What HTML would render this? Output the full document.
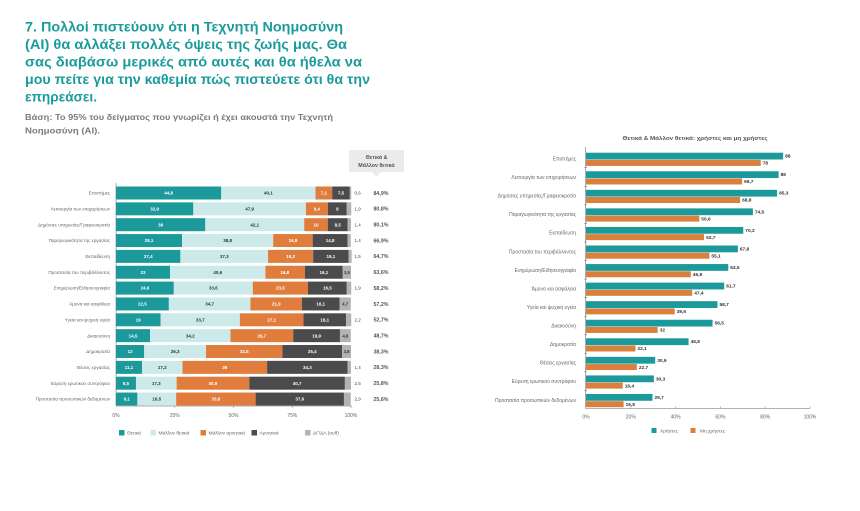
<!DOCTYPE html>
<html><head><meta charset="utf-8"><style>
html,body{margin:0;padding:0;background:#fff;}
svg{display:block;}
text{font-family:"Liberation Sans","DejaVu Sans",sans-serif;}
</style></head><body>
<svg width="860" height="511" viewBox="0 0 860 511" xmlns="http://www.w3.org/2000/svg">
<rect width="860" height="511" fill="#fff"/>
<!-- Title -->
<g fill="#1a9b9c" font-weight="bold" font-size="14">
<text x="25" y="31.5" textLength="318" lengthAdjust="spacingAndGlyphs">7. Πολλοί πιστεύουν ότι η Τεχνητή Νοημοσύνη</text>
<text x="25" y="49" textLength="322" lengthAdjust="spacingAndGlyphs">(AI) θα αλλάξει πολλές όψεις της ζωής μας. Θα</text>
<text x="25" y="66.5" textLength="337" lengthAdjust="spacingAndGlyphs">σας διαβάσω μερικές από αυτές και θα ήθελα να</text>
<text x="25" y="84" textLength="345" lengthAdjust="spacingAndGlyphs">μου πείτε για την καθεμία πώς πιστεύετε ότι θα την</text>
<text x="25" y="101.5" textLength="72" lengthAdjust="spacingAndGlyphs">επηρεάσει.</text>
</g>
<g fill="#7a7a7a" font-weight="bold" font-size="8.5">
<text x="25" y="120" textLength="308" lengthAdjust="spacingAndGlyphs">Βάση: Το 95% του δείγματος που γνωρίζει ή έχει ακουστά την Τεχνητή</text>
<text x="25" y="133.5" textLength="75" lengthAdjust="spacingAndGlyphs">Νοημοσύνη (AI).</text>
</g>

<!-- Header box -->
<rect x="349" y="150" width="55" height="22" fill="#ebebeb"/>
<polygon points="372,172 381,172 376.5,177" fill="#ebebeb"/>
<g fill="#555" font-size="5.3" font-weight="bold" text-anchor="middle">
<text x="376.5" y="159">Θετικά &amp;</text>
<text x="376.5" y="167">Μάλλον θετικά</text>
</g>

<!-- Left chart axes -->
<line x1="116" y1="183" x2="116" y2="406" stroke="#999" stroke-width="0.8"/>
<line x1="116" y1="406" x2="352" y2="406" stroke="#999" stroke-width="0.8"/>
<g stroke="#999" stroke-width="0.6">
<line x1="174.75" y1="406" x2="174.75" y2="408"/><line x1="233.5" y1="406" x2="233.5" y2="408"/><line x1="292.25" y1="406" x2="292.25" y2="408"/><line x1="351" y1="406" x2="351" y2="408"/>
</g>
<g fill="#666" font-size="5" text-anchor="middle">
<text x="116" y="417">0%</text><text x="174.75" y="417">25%</text><text x="233.5" y="417">50%</text><text x="292.25" y="417">75%</text><text x="351" y="417">100%</text>
</g>

<!-- Left row labels -->
<g fill="#666" font-size="4.6" text-anchor="end">
<text x="110" y="194.6">Επιστήμες</text>
<text x="110" y="210.45">Λειτουργία των επιχειρήσεων</text>
<text x="110" y="226.3">Δημόσιες υπηρεσίες/Γραφειοκρατία</text>
<text x="110" y="242.15">Παραγωγικότητα της εργασίας</text>
<text x="110" y="258">Εκπαίδευση</text>
<text x="110" y="273.85">Προστασία του περιβάλλοντος</text>
<text x="110" y="289.7">Ενημέρωση/Ειδησεογραφία</text>
<text x="110" y="305.55">Άμυνα και ασφάλεια</text>
<text x="110" y="321.4">Υγεία και ψυχική υγεία</text>
<text x="110" y="337.25">Δικαιοσύνη</text>
<text x="110" y="353.1">Δημοκρατία</text>
<text x="110" y="368.95">Θέσεις εργασίας</text>
<text x="110" y="384.8">Εύρεση ερωτικού συντρόφου</text>
<text x="110" y="400.65">Προστασία προσωπικών δεδομένων</text>
</g>

<!-- Left bars -->
<g>
<!-- row0 -->
<rect x="116" y="186.5" width="105.28" height="13" fill="#1c9a9b"/>
<rect x="221.28" y="186.5" width="94.235" height="13" fill="#cdeaea"/>
<rect x="315.515" y="186.5" width="16.685" height="13" fill="#e07d3c"/>
<rect x="332.2" y="186.5" width="17.625" height="13" fill="#4b4b4d"/>
<rect x="349.825" y="186.5" width="1.41" height="13" fill="#b3b3b3"/>
<!-- row1 -->
<rect x="116" y="202.35" width="77.315" height="13" fill="#1c9a9b"/>
<rect x="193.315" y="202.35" width="112.565" height="13" fill="#cdeaea"/>
<rect x="305.88" y="202.35" width="22.09" height="13" fill="#e07d3c"/>
<rect x="327.97" y="202.35" width="18.8" height="13" fill="#4b4b4d"/>
<rect x="346.77" y="202.35" width="4.465" height="13" fill="#b3b3b3"/>
<!-- row2 -->
<rect x="116" y="218.2" width="89.3" height="13" fill="#1c9a9b"/>
<rect x="205.3" y="218.2" width="98.935" height="13" fill="#cdeaea"/>
<rect x="304.235" y="218.2" width="23.5" height="13" fill="#e07d3c"/>
<rect x="327.735" y="218.2" width="19.975" height="13" fill="#4b4b4d"/>
<rect x="347.71" y="218.2" width="3.29" height="13" fill="#b3b3b3"/>
<!-- row3 -->
<rect x="116" y="234.05" width="66.035" height="13" fill="#1c9a9b"/>
<rect x="182.035" y="234.05" width="91.18" height="13" fill="#cdeaea"/>
<rect x="273.215" y="234.05" width="39.48" height="13" fill="#e07d3c"/>
<rect x="312.695" y="234.05" width="34.78" height="13" fill="#4b4b4d"/>
<rect x="347.475" y="234.05" width="3.29" height="13" fill="#b3b3b3"/>
<!-- row4 -->
<rect x="116" y="249.9" width="64.39" height="13" fill="#1c9a9b"/>
<rect x="180.39" y="249.9" width="87.655" height="13" fill="#cdeaea"/>
<rect x="268.045" y="249.9" width="45.12" height="13" fill="#e07d3c"/>
<rect x="313.165" y="249.9" width="35.485" height="13" fill="#4b4b4d"/>
<rect x="348.65" y="249.9" width="3.0" height="13" fill="#b3b3b3"/>
<!-- row5 -->
<rect x="116" y="265.75" width="54.05" height="13" fill="#1c9a9b"/>
<rect x="170.05" y="265.75" width="95.41" height="13" fill="#cdeaea"/>
<rect x="265.46" y="265.75" width="39.48" height="13" fill="#e07d3c"/>
<rect x="304.94" y="265.75" width="37.835" height="13" fill="#4b4b4d"/>
<rect x="342.775" y="265.75" width="8.225" height="13" fill="#b3b3b3"/>
<!-- row6 -->
<rect x="116" y="281.6" width="57.81" height="13" fill="#1c9a9b"/>
<rect x="173.81" y="281.6" width="78.96" height="13" fill="#cdeaea"/>
<rect x="252.77" y="281.6" width="55.225" height="13" fill="#e07d3c"/>
<rect x="307.995" y="281.6" width="38.775" height="13" fill="#4b4b4d"/>
<rect x="346.77" y="281.6" width="4.465" height="13" fill="#b3b3b3"/>
<!-- row7 -->
<rect x="116" y="297.45" width="52.875" height="13" fill="#1c9a9b"/>
<rect x="168.875" y="297.45" width="81.545" height="13" fill="#cdeaea"/>
<rect x="250.42" y="297.45" width="51.465" height="13" fill="#e07d3c"/>
<rect x="301.885" y="297.45" width="37.835" height="13" fill="#4b4b4d"/>
<rect x="339.72" y="297.45" width="11.045" height="13" fill="#b3b3b3"/>
<!-- row8 -->
<rect x="116" y="313.3" width="44.65" height="13" fill="#1c9a9b"/>
<rect x="160.65" y="313.3" width="79.195" height="13" fill="#cdeaea"/>
<rect x="239.845" y="313.3" width="63.685" height="13" fill="#e07d3c"/>
<rect x="303.53" y="313.3" width="42.535" height="13" fill="#4b4b4d"/>
<rect x="346.065" y="313.3" width="5.17" height="13" fill="#b3b3b3"/>
<!-- row9 -->
<rect x="116" y="329.15" width="34.075" height="13" fill="#1c9a9b"/>
<rect x="150.075" y="329.15" width="80.37" height="13" fill="#cdeaea"/>
<rect x="230.445" y="329.15" width="62.745" height="13" fill="#e07d3c"/>
<rect x="293.19" y="329.15" width="46.765" height="13" fill="#4b4b4d"/>
<rect x="339.955" y="329.15" width="10.81" height="13" fill="#b3b3b3"/>
<!-- row10 -->
<rect x="116" y="345" width="28.2" height="13" fill="#1c9a9b"/>
<rect x="144.2" y="345" width="61.805" height="13" fill="#cdeaea"/>
<rect x="206.005" y="345" width="76.375" height="13" fill="#e07d3c"/>
<rect x="282.38" y="345" width="59.69" height="13" fill="#4b4b4d"/>
<rect x="342.07" y="345" width="8.93" height="13" fill="#b3b3b3"/>
<!-- row11 -->
<rect x="116" y="360.85" width="26.085" height="13" fill="#1c9a9b"/>
<rect x="142.085" y="360.85" width="40.42" height="13" fill="#cdeaea"/>
<rect x="182.505" y="360.85" width="84.6" height="13" fill="#e07d3c"/>
<rect x="267.105" y="360.85" width="80.605" height="13" fill="#4b4b4d"/>
<rect x="347.71" y="360.85" width="3.29" height="13" fill="#b3b3b3"/>
<!-- row12 -->
<rect x="116" y="376.7" width="19.975" height="13" fill="#1c9a9b"/>
<rect x="135.975" y="376.7" width="40.655" height="13" fill="#cdeaea"/>
<rect x="176.63" y="376.7" width="72.615" height="13" fill="#e07d3c"/>
<rect x="249.245" y="376.7" width="95.645" height="13" fill="#4b4b4d"/>
<rect x="344.89" y="376.7" width="6.11" height="13" fill="#b3b3b3"/>
<!-- row13 -->
<rect x="116" y="392.55" width="21.385" height="13" fill="#1c9a9b"/>
<rect x="137.385" y="392.55" width="38.775" height="13" fill="#cdeaea"/>
<rect x="176.16" y="392.55" width="79.43" height="13" fill="#e07d3c"/>
<rect x="255.59" y="392.55" width="88.36" height="13" fill="#4b4b4d"/>
<rect x="343.95" y="392.55" width="6.815" height="13" fill="#b3b3b3"/>
</g>

<!-- In-bar labels: teal (white) -->
<g fill="#fff" font-size="4.5" text-anchor="middle" font-weight="bold">
<text x="168.64" y="194.6">44,8</text>
<text x="154.66" y="210.45">32,9</text>
<text x="160.65" y="226.3">38</text>
<text x="149.02" y="242.15">28,1</text>
<text x="148.2" y="258">27,4</text>
<text x="143" y="273.85">23</text>
<text x="144.9" y="289.7">24,6</text>
<text x="142.4" y="305.55">22,5</text>
<text x="138.3" y="321.4">19</text>
<text x="133" y="337.25">14,5</text>
<text x="130.1" y="353.1">12</text>
<text x="129" y="368.95">11,1</text>
<text x="126" y="384.8">8,5</text>
<text x="126.7" y="400.65">9,1</text>
</g>
<!-- light (dark text) -->
<g fill="#333" font-size="4.5" text-anchor="middle" font-weight="bold">
<text x="268.4" y="194.6">40,1</text>
<text x="249.6" y="210.45">47,9</text>
<text x="254.77" y="226.3">42,1</text>
<text x="227.6" y="242.15">38,8</text>
<text x="224.2" y="258">37,3</text>
<text x="217.8" y="273.85">40,6</text>
<text x="213.3" y="289.7">33,6</text>
<text x="209.6" y="305.55">34,7</text>
<text x="200.2" y="321.4">33,7</text>
<text x="190.3" y="337.25">34,2</text>
<text x="175.1" y="353.1">26,3</text>
<text x="162.3" y="368.95">17,2</text>
<text x="156.3" y="384.8">17,3</text>
<text x="156.8" y="400.65">16,5</text>
</g>
<!-- orange and dark (white text) -->
<g fill="#fff" font-size="4.5" text-anchor="middle" font-weight="bold">
<text x="323.86" y="194.6">7,1</text><text x="341.01" y="194.6">7,5</text>
<text x="316.9" y="210.45">9,4</text><text x="337.37" y="210.45">8</text>
<text x="315.99" y="226.3">10</text><text x="337.72" y="226.3">8,5</text>
<text x="292.96" y="242.15">16,8</text><text x="330.09" y="242.15">14,8</text>
<text x="290.6" y="258">19,2</text><text x="330.9" y="258">15,1</text>
<text x="284.7" y="273.85">16,8</text><text x="323.9" y="273.85">16,1</text>
<text x="280.4" y="289.7">23,5</text><text x="327.4" y="289.7">16,5</text>
<text x="276.2" y="305.55">21,9</text><text x="320.8" y="305.55">16,1</text>
<text x="271.7" y="321.4">27,1</text><text x="324.8" y="321.4">18,1</text>
<text x="261.8" y="337.25">26,7</text><text x="316.6" y="337.25">19,9</text>
<text x="244.2" y="353.1">32,5</text><text x="312.2" y="353.1">25,4</text>
<text x="224.8" y="368.95">36</text><text x="307.4" y="368.95">34,3</text>
<text x="212.9" y="384.8">30,9</text><text x="297.1" y="384.8">40,7</text>
<text x="215.9" y="400.65">33,8</text><text x="299.8" y="400.65">37,6</text>
</g>
<!-- gray inside -->
<g fill="#333" font-size="4.2" text-anchor="middle" font-weight="bold">
<text x="346.9" y="273.85">3,5</text>
<text x="345.2" y="305.55">4,7</text>
<text x="345.4" y="337.25">4,6</text>
<text x="346.5" y="353.1">3,8</text>
</g>
<!-- gray outside -->
<g fill="#444" font-size="4.5">
<text x="354.5" y="194.6">0,6</text>
<text x="354.5" y="210.45">1,9</text>
<text x="354.5" y="226.3">1,4</text>
<text x="354.5" y="242.15">1,4</text>
<text x="354.5" y="258">1,5</text>
<text x="354.5" y="289.7">1,9</text>
<text x="354.5" y="321.4">2,2</text>
<text x="354.5" y="368.95">1,4</text>
<text x="354.5" y="384.8">2,6</text>
<text x="354.5" y="400.65">2,9</text>
</g>
<!-- percent column -->
<g fill="#555" font-size="5.3" text-anchor="middle" font-weight="bold">
<text x="381" y="194.8">84,9%</text>
<text x="381" y="210.65">80,8%</text>
<text x="381" y="226.5">80,1%</text>
<text x="381" y="242.35">66,9%</text>
<text x="381" y="258.2">64,7%</text>
<text x="381" y="274.05">63,6%</text>
<text x="381" y="289.9">58,2%</text>
<text x="381" y="305.75">57,2%</text>
<text x="381" y="321.6">52,7%</text>
<text x="381" y="337.45">48,7%</text>
<text x="381" y="353.3">38,3%</text>
<text x="381" y="369.15">28,3%</text>
<text x="381" y="385">25,8%</text>
<text x="381" y="400.85">25,6%</text>
</g>

<!-- Left legend -->
<rect x="119" y="430" width="5.5" height="5.5" fill="#1c9a9b"/>
<rect x="150.5" y="430" width="5.5" height="5.5" fill="#cdeaea"/>
<rect x="200.5" y="430" width="5.5" height="5.5" fill="#e07d3c"/>
<rect x="251.5" y="430" width="5.5" height="5.5" fill="#4b4b4d"/>
<rect x="305" y="430" width="5.5" height="5.5" fill="#b3b3b3"/>
<g fill="#666" font-size="4.8">
<text x="127" y="434.6">Θετικά</text>
<text x="158.5" y="434.6">Μάλλον θετικά</text>
<text x="208.5" y="434.6">Μάλλον αρνητικά</text>
<text x="259.5" y="434.6">Αρνητικά</text>
<text x="313" y="434.6">ΔΓ/ΔΑ (αυθ)</text>
</g>

<!-- Right chart -->
<text x="695" y="140" fill="#555" font-size="5.6" font-weight="bold" text-anchor="middle" textLength="145" lengthAdjust="spacingAndGlyphs">Θετικά &amp; Μάλλον θετικά: χρήστες  και μη χρήστες</text>
<line x1="585.5" y1="147" x2="585.5" y2="408.5" stroke="#999" stroke-width="0.8"/>
<line x1="585.5" y1="408.5" x2="810" y2="408.5" stroke="#999" stroke-width="0.8"/>
<g stroke="#999" stroke-width="0.6">
<line x1="630.8" y1="406.5" x2="630.8" y2="408.5"/><line x1="675.6" y1="406.5" x2="675.6" y2="408.5"/><line x1="720.4" y1="406.5" x2="720.4" y2="408.5"/><line x1="765.2" y1="406.5" x2="765.2" y2="408.5"/><line x1="810" y1="406.5" x2="810" y2="408.5"/>
</g>
<g stroke="#777" stroke-width="0.7">
<line x1="584.5" y1="167.7" x2="587" y2="167.7"/><line x1="584.5" y1="186.3" x2="587" y2="186.3"/><line x1="584.5" y1="204.8" x2="587" y2="204.8"/><line x1="584.5" y1="223.4" x2="587" y2="223.4"/><line x1="584.5" y1="242" x2="587" y2="242"/><line x1="584.5" y1="260.5" x2="587" y2="260.5"/><line x1="584.5" y1="279.1" x2="587" y2="279.1"/><line x1="584.5" y1="297.6" x2="587" y2="297.6"/><line x1="584.5" y1="316.2" x2="587" y2="316.2"/><line x1="584.5" y1="334.8" x2="587" y2="334.8"/><line x1="584.5" y1="353.3" x2="587" y2="353.3"/><line x1="584.5" y1="371.9" x2="587" y2="371.9"/><line x1="584.5" y1="390.4" x2="587" y2="390.4"/>
</g>
<g fill="#666" font-size="5" text-anchor="middle">
<text x="586" y="418.5">0%</text><text x="630.8" y="418.5">20%</text><text x="675.6" y="418.5">40%</text><text x="720.4" y="418.5">60%</text><text x="765.2" y="418.5">80%</text><text x="810" y="418.5">100%</text>
</g>
<!-- right labels -->
<g fill="#666" font-size="5" text-anchor="end">
<text x="576" y="160.5">Επιστήμες</text>
<text x="576" y="179.1">Λειτουργία των επιχειρήσεων</text>
<text x="576" y="197.6">Δημόσιες υπηρεσίες/Γραφειοκρατία</text>
<text x="576" y="216.2">Παραγωγικότητα της εργασίας</text>
<text x="576" y="234.7">Εκπαίδευση</text>
<text x="576" y="253.3">Προστασία του περιβάλλοντος</text>
<text x="576" y="271.9">Ενημέρωση/Ειδησεογραφία</text>
<text x="576" y="290.4">Άμυνα και ασφάλεια</text>
<text x="576" y="309">Υγεία και ψυχική υγεία</text>
<text x="576" y="327.5">Δικαιοσύνη</text>
<text x="576" y="346.1">Δημοκρατία</text>
<text x="576" y="364.7">Θέσεις εργασίας</text>
<text x="576" y="383.2">Εύρεση ερωτικού συντρόφου</text>
<text x="576" y="401.8">Προστασία προσωπικών δεδομένων</text>
</g>
<!-- teal bars -->
<g fill="#1c9a9b">
<rect x="586" y="152.7" width="197.12" height="6.8"/>
<rect x="586" y="171.26" width="192.64" height="6.8"/>
<rect x="586" y="189.82" width="191.07" height="6.8"/>
<rect x="586" y="208.38" width="166.88" height="6.8"/>
<rect x="586" y="226.94" width="157.25" height="6.8"/>
<rect x="586" y="245.5" width="151.87" height="6.8"/>
<rect x="586" y="264.06" width="142.24" height="6.8"/>
<rect x="586" y="282.62" width="138.21" height="6.8"/>
<rect x="586" y="301.18" width="131.49" height="6.8"/>
<rect x="586" y="319.74" width="126.56" height="6.8"/>
<rect x="586" y="338.3" width="102.59" height="6.8"/>
<rect x="586" y="356.86" width="69.22" height="6.8"/>
<rect x="586" y="375.42" width="67.87" height="6.8"/>
<rect x="586" y="393.98" width="66.53" height="6.8"/>
</g>
<!-- orange bars -->
<g fill="#d9803f">
<rect x="586" y="159.9" width="174.72" height="6"/>
<rect x="586" y="178.46" width="156.13" height="6"/>
<rect x="586" y="197.02" width="154.11" height="6"/>
<rect x="586" y="215.58" width="113.34" height="6"/>
<rect x="586" y="234.14" width="118.05" height="6"/>
<rect x="586" y="252.7" width="123.42" height="6"/>
<rect x="586" y="271.26" width="104.83" height="6"/>
<rect x="586" y="289.82" width="106.18" height="6"/>
<rect x="586" y="308.38" width="88.7" height="6"/>
<rect x="586" y="326.94" width="71.68" height="6"/>
<rect x="586" y="345.5" width="49.5" height="6"/>
<rect x="586" y="364.06" width="50.85" height="6"/>
<rect x="586" y="382.62" width="36.74" height="6"/>
<rect x="586" y="401.18" width="37.63" height="6"/>
</g>
<!-- teal values -->
<g fill="#333" font-size="4.8" font-weight="bold">
<text x="785.1" y="157.6">88</text>
<text x="780.6" y="176.2">86</text>
<text x="779.1" y="194.7">85,3</text>
<text x="754.9" y="213.3">74,5</text>
<text x="745.3" y="231.8">70,2</text>
<text x="739.9" y="250.4">67,8</text>
<text x="730.2" y="269">63,5</text>
<text x="726.2" y="287.5">61,7</text>
<text x="719.5" y="306.1">58,7</text>
<text x="714.6" y="324.6">56,5</text>
<text x="690.6" y="343.2">45,8</text>
<text x="657.2" y="361.8">30,9</text>
<text x="655.9" y="380.3">30,3</text>
<text x="654.5" y="398.9">29,7</text>
</g>
<!-- orange values -->
<g fill="#333" font-size="4.8" font-weight="bold">
<text x="762.7" y="164.6">78</text>
<text x="744.1" y="183.2">69,7</text>
<text x="742.1" y="201.7">68,8</text>
<text x="701.3" y="220.3">50,6</text>
<text x="706.1" y="238.8">52,7</text>
<text x="711.4" y="257.4">55,1</text>
<text x="692.8" y="276">46,8</text>
<text x="694.2" y="294.5">47,4</text>
<text x="676.7" y="313.1">39,6</text>
<text x="659.7" y="331.6">32</text>
<text x="637.5" y="350.2">22,1</text>
<text x="638.9" y="368.8">22,7</text>
<text x="624.7" y="387.3">16,4</text>
<text x="625.6" y="405.9">16,8</text>
</g>
<!-- right legend -->
<rect x="651.5" y="428" width="5" height="5" fill="#1c9a9b"/>
<text x="660" y="432.6" fill="#666" font-size="4.8">Χρήστες</text>
<rect x="690.5" y="428" width="5" height="5" fill="#d9803f"/>
<text x="700" y="432.6" fill="#666" font-size="4.8">Μη χρήστες</text>
</svg>
</body></html>
